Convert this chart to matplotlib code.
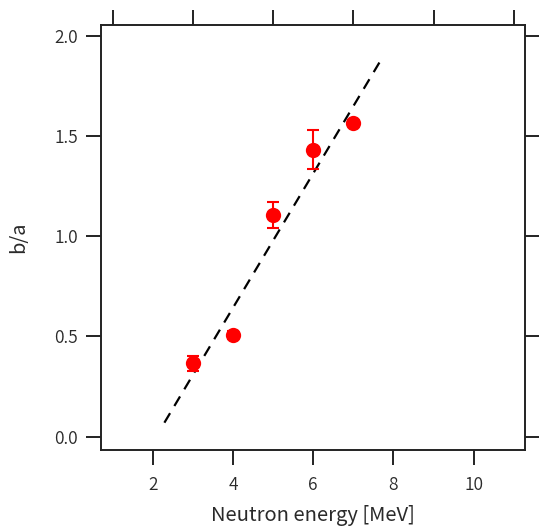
import matplotlib
matplotlib.use("Agg")
import matplotlib.pyplot as plt
import numpy as np

plt.rcParams['font.family'] = ['Noto Sans CJK JP', 'DejaVu Sans']
plt.rcParams['font.weight'] = 350
plt.rcParams['lines.scale_dashes'] = False

# data
energy = [3, 4, 5, 6, 7]
ratio = [0.366, 0.505, 1.106, 1.432, 1.562]
ratio_err = [0.037, 0.02, 0.065, 0.095, 0.015]

# linear fit shown as dashed line
fit_x = [2.29, 7.71]
fit_slope = 0.335
fit_icpt = -0.697

xticks = [2, 4, 6, 8, 10]
xticks_top = [1, 3, 5, 7, 9, 11]
yticks = [0.0, 0.5, 1.0, 1.5, 2.0]

fig = plt.figure(figsize=(5.39, 5.28), dpi=100)
ax = fig.add_axes([101/539, 1-450/528, 424/539, 425/528])

fx = np.array(fit_x)
ax.plot(fx, fit_slope*fx + fit_icpt, color='black', lw=1.6, dashes=(8, 6))

ax.errorbar(energy, ratio, yerr=ratio_err, fmt='o', color='#ff0000',
            ms=11, mec='none', elinewidth=1.5, capsize=4.3, capthick=1.5)

ax.set_xlim(0.71, 11.28)
ax.set_ylim(-0.066, 2.053)
ax.set_xticks(xticks)
ax.set_yticks(yticks)
ax.set_yticklabels(["%.1f" % v for v in yticks])

for s in ax.spines.values():
    s.set_linewidth(1.4)
    s.set_color('#222222')

ax.tick_params(direction='out', length=10.5, width=1.4, color='#222222',
               labelsize=12.5, labelcolor='#2a2a2a')
ax.tick_params(axis='x', pad=8)
ax.tick_params(axis='y', pad=6, right=True)

top = ax.secondary_xaxis('top')
top.set_xticks(xticks_top)
top.tick_params(direction='out', length=10.5, width=1.4, color='#222222',
                labelbottom=False, labeltop=False)
top.spines['top'].set_visible(False)

ax.set_xlabel("Neutron energy [MeV]", fontsize=14.5, color='#2a2a2a', labelpad=8)
ax.set_ylabel("b/a", fontsize=14.5, color='#2a2a2a', labelpad=18)

fig.savefig("out.png", dpi=100)
